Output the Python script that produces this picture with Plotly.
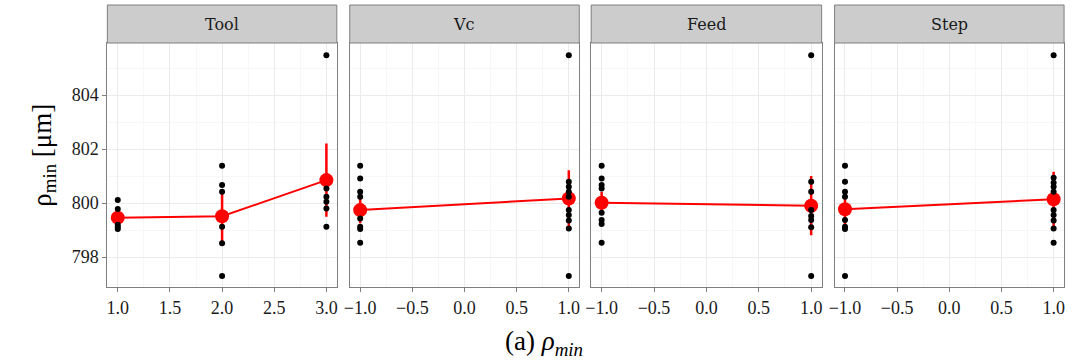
import plotly.graph_objects as go

# ---- data ----
panels = ["Tool", "Vc", "Feed", "Step"]

tool_levels = [1.0, 2.0, 3.0]
tool_points = [
    [800.11, 799.78, 799.20, 799.11, 799.04],
    [801.38, 800.67, 800.42, 799.12, 798.51, 797.30],
    [805.48, 800.54, 800.23, 800.05, 799.80, 799.12],
]
tool_mean = [799.46, 799.51, 800.85]
tool_lo = [799.31, 798.44, 799.49]
tool_hi = [799.61, 800.42, 802.21]

pm_levels = [-1.0, 1.0]
vc_points = [
    [801.38, 800.91, 800.42, 800.23, 799.43, 799.12, 799.04, 798.53],
    [805.48, 800.79, 800.60, 800.42, 800.23, 799.74, 799.56, 799.35, 799.06, 797.30],
]
vc_mean = [799.74, 800.17]
vc_lo = [799.25, 799.06]
vc_hi = [800.17, 801.22]

feed_points = [
    [801.38, 800.91, 800.67, 800.54, 799.64, 799.37, 799.22, 798.53],
    [805.48, 800.79, 800.42, 799.74, 799.52, 799.37, 799.10, 797.30],
]
feed_mean = [800.01, 799.90]
feed_lo = [799.62, 798.81]
feed_hi = [800.42, 801.00]

step_points = [
    [801.38, 800.79, 800.42, 800.23, 799.37, 799.12, 799.04, 797.30],
    [805.48, 800.94, 800.75, 800.60, 800.42, 799.74, 799.56, 799.35, 799.06, 798.53],
]
step_mean = [799.77, 800.14]
step_lo = [799.12, 799.06]
step_hi = [800.36, 801.16]

y_range = [796.89, 805.93]
y_ticks = [798, 800, 802, 804]

# ---- layout geometry ----
W, H = 1075, 363
panel_px = [(102, 333), (346, 577), (589, 821), (834, 1065)]
plot_top, plot_bot = 43, 287
strip_top = 5

def px2x(p):
    return p / W

def py2y(p):
    return 1 - p / H

RED = "#ff0000"
GRID = "#ebebeb"
MINOR = "#f7f7f7"
BORDER = "#7f7f7f"
SERIF = "Liberation Serif, DejaVu Serif, Times New Roman, serif"

fig = go.Figure()

data = [
    (tool_levels, tool_points, tool_mean, tool_lo, tool_hi),
    (pm_levels, vc_points, vc_mean, vc_lo, vc_hi),
    (pm_levels, feed_points, feed_mean, feed_lo, feed_hi),
    (pm_levels, step_points, step_mean, step_lo, step_hi),
]

for i, (lv, pts, mn, lo, hi) in enumerate(data):
    ax = "" if i == 0 else str(i + 1)
    xa, ya = "x" + ax, "y" + ax
    fig.add_trace(go.Scatter(
        x=lv, y=mn, mode="lines", line=dict(color=RED, width=2),
        xaxis=xa, yaxis=ya, showlegend=False, hoverinfo="skip"))
    fig.add_trace(go.Scatter(
        x=lv, y=mn, mode="markers",
        marker=dict(color=RED, size=14),
        error_y=dict(type="data", symmetric=False,
                     array=[h - m for h, m in zip(hi, mn)],
                     arrayminus=[m - l for m, l in zip(mn, lo)],
                     color=RED, thickness=2.5, width=0),
        xaxis=xa, yaxis=ya, showlegend=False))
    xs, ys = [], []
    for lvl, grp in zip(lv, pts):
        xs += [lvl] * len(grp)
        ys += grp
    fig.add_trace(go.Scatter(
        x=xs, y=ys, mode="markers", marker=dict(color="black", size=6),
        xaxis=xa, yaxis=ya, showlegend=False))

layout = dict(
    width=W, height=H,
    margin=dict(l=0, r=0, t=0, b=0),
    paper_bgcolor="white", plot_bgcolor="white",
    font=dict(family=SERIF, size=16, color="#1a1a1a"),
)

tickfont = dict(family=SERIF, size=18, color="#1a1a1a")

for i, (l, r) in enumerate(panel_px):
    ax = "" if i == 0 else str(i + 1)
    if i == 0:
        xr, x_ticks = [0.9, 3.1], [1.0, 1.5, 2.0, 2.5, 3.0]
    else:
        xr, x_ticks = [-1.1, 1.1], [-1.0, -0.5, 0.0, 0.5, 1.0]
    layout["xaxis" + ax] = dict(
        domain=[px2x(l), px2x(r)], range=xr, anchor="y" + ax,
        tickvals=x_ticks, ticktext=[("%.1f" % v).replace("-", "\u2212") for v in x_ticks],
        ticks="outside", ticklen=4, tickcolor=BORDER,
        showgrid=True, gridcolor=GRID, gridwidth=1,
        minor=dict(showgrid=True, gridcolor=MINOR, dtick=0.25, tick0=0),
        showline=True, linecolor=BORDER, linewidth=1, mirror=True,
        zeroline=False, tickfont=tickfont,
    )
    layout["yaxis" + ax] = dict(
        domain=[py2y(plot_bot), py2y(plot_top)], range=y_range, anchor="x" + ax,
        tickvals=y_ticks, showticklabels=(i == 0),
        ticks="outside" if i == 0 else "", ticklen=4, tickcolor=BORDER,
        showgrid=True, gridcolor=GRID, gridwidth=1,
        minor=dict(showgrid=True, gridcolor=MINOR, dtick=1, tick0=797),
        showline=True, linecolor=BORDER, linewidth=1, mirror=True,
        zeroline=False, tickfont=tickfont,
    )

fig.update_layout(**layout)

shapes = []
annotations = []
for i, (l, r) in enumerate(panel_px):
    shapes.append(dict(type="rect", xref="paper", yref="paper",
                       x0=px2x(l), x1=px2x(r), y0=py2y(plot_top), y1=py2y(strip_top),
                       fillcolor="#cccccc", line=dict(color=BORDER, width=1), layer="above"))
    annotations.append(dict(text=panels[i], xref="paper", yref="paper",
                            x=px2x((l + r) / 2), y=py2y((strip_top + plot_top) / 2),
                            showarrow=False, xanchor="center", yanchor="middle",
                            font=dict(family="DejaVu Serif, serif", size=16, color="#1a1a1a")))

annotations.append(dict(text="\u03c1<sub>min</sub> [\u03bcm]", xref="paper", yref="paper",
                        x=px2x(38), y=py2y(155), textangle=-90, showarrow=False,
                        xanchor="center", yanchor="middle",
                        font=dict(family=SERIF, size=27, color="black")))
annotations.append(dict(text="(a) <i>\u03c1</i><sub><i>min</i></sub>", xref="paper", yref="paper",
                        x=px2x(542), y=py2y(343), showarrow=False,
                        xanchor="center", yanchor="middle",
                        font=dict(family=SERIF, size=27, color="black")))

fig.update_layout(shapes=shapes, annotations=annotations)

fig.write_html("out.html")
